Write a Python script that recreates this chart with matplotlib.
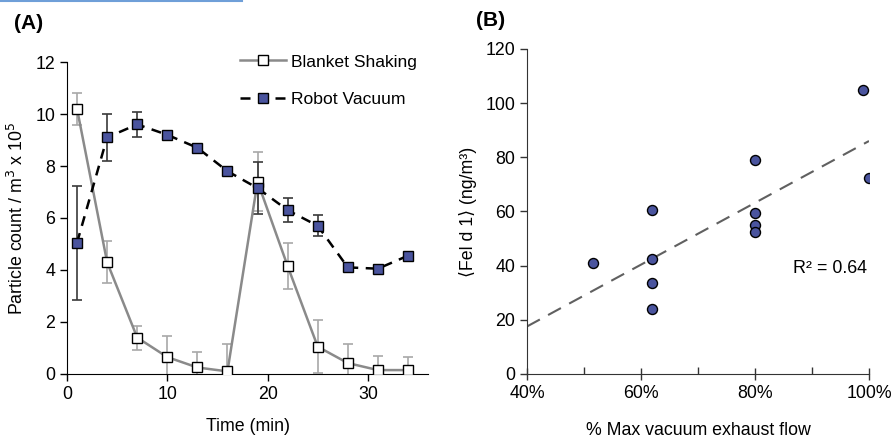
import numpy as np
import matplotlib
matplotlib.use('Agg')
import matplotlib.pyplot as plt
from matplotlib.lines import Line2D
from matplotlib.ticker import PercentFormatter, MultipleLocator

plt.rcParams['font.family'] = ['Liberation Sans', 'DejaVu Sans']
plt.rcParams['font.size'] = 12.8

# Panel A data
time_min = [1, 4, 7, 10, 13, 16, 19, 22, 25, 28, 31, 34]
blanket = [10.2, 4.3, 1.4, 0.65, 0.25, 0.1, 7.4, 4.15, 1.05, 0.42, 0.15, 0.15]
blanket_err = [0.62, 0.8, 0.46, 0.8, 0.6, 1.05, 1.13, 0.9, 1.03, 0.73, 0.55, 0.5]
robot = [5.05, 9.1, 9.6, 9.2, 8.7, 7.8, 7.15, 6.3, 5.7, 4.1, 4.05, 4.55]
robot_err = [2.2, 0.9, 0.47, 0, 0, 0, 1.0, 0.45, 0.4, 0, 0, 0]

# Panel B data
flow = [0.515, 0.62, 0.62, 0.62, 0.62, 0.80, 0.80, 0.80, 0.80, 0.99, 1.00]
feld1 = [41, 60.5, 42.5, 33.5, 24, 79, 59.5, 55, 52.5, 105, 72.5]

blue = '#4a549e'

fig = plt.figure(figsize=(8.91, 4.37), dpi=100)

# (A)
ax1 = fig.add_axes([0.0752, 0.1442, 0.4052, 0.7139])
ax1.errorbar(time_min, blanket, yerr=blanket_err, fmt='none', ecolor='#a8a8a8',
             elinewidth=1.2, capsize=3.5, capthick=1.2, zorder=2)
ax1.errorbar(time_min, robot, yerr=robot_err, fmt='none', ecolor='#3a3a3a',
             elinewidth=1.2, capsize=3.5, capthick=1.2, zorder=2)
ax1.plot(time_min, blanket, color='#8a8a8a', lw=1.8, marker='s', ms=7,
         mfc='white', mec='black', mew=1.0, label='Blanket Shaking', zorder=3)
ax1.plot(time_min, robot, color='black', lw=1.8, ls=(0, (4, 3)), marker='s', ms=7,
         mfc=blue, mec='black', mew=1.0, label='Robot Vacuum', zorder=4)
ax1.set_xlim(0, 36)
ax1.set_ylim(0, 12)
ax1.set_xticks([0, 10, 20, 30])
ax1.set_yticks(range(0, 13, 2))
for s in ['top', 'right']:
    ax1.spines[s].set_visible(False)
ax1.tick_params(direction='out', length=5, width=1.0)
ax1.set_xlabel('Time (min)', labelpad=11)
ax1.set_ylabel('Particle count / m$^3$ x 10$^5$', labelpad=6)
ax1.legend(loc='upper left', bbox_to_anchor=(0.436, 1.075), frameon=False,
           handlelength=2.6, labelspacing=1.25, handletextpad=0.3, fontsize=12.6)
fig.text(0.016, 0.947, '(A)', fontsize=15, fontweight='bold', va='center')

# (B)
ax2 = fig.add_axes([0.5915, 0.1442, 0.3838, 0.7437])
ax2.scatter(flow, feld1, s=52, color=blue, edgecolor='black', linewidth=1.0, zorder=3)
slope, icpt = np.polyfit(flow, feld1, 1)
xfit = np.array([0.4, 1.0])
ax2.plot(xfit, slope * xfit + icpt, color='#606060', lw=1.5, ls=(0, (7, 4.5)), zorder=2)
r2 = np.corrcoef(flow, feld1)[0, 1] ** 2
ax2.text(0.997, 39, 'R² = %.2f' % r2, ha='right', va='center', fontsize=12.9)
ax2.set_xlim(0.4, 1.0)
ax2.set_ylim(0, 120)
ax2.set_xticks([0.4, 0.6, 0.8, 1.0])
ax2.xaxis.set_minor_locator(MultipleLocator(0.1))
ax2.xaxis.set_major_formatter(PercentFormatter(1.0, decimals=0))
ax2.set_yticks(range(0, 121, 20))
for s in ['top', 'right']:
    ax2.spines[s].set_visible(False)
for s in ['left', 'bottom']:
    ax2.spines[s].set_color('#333333')
ax2.tick_params(axis='x', which='major', direction='inout', length=9, width=1.0, color='#333333')
ax2.tick_params(axis='x', which='minor', direction='in', length=5, width=1.0, color='#333333')
ax2.tick_params(axis='y', direction='out', length=5, width=1.0, color='#333333')
ax2.set_xlabel('% Max vacuum exhaust flow', labelpad=14)
ax2.set_ylabel('⟨Fel d 1⟩ (ng/m³)', labelpad=6)
fig.text(0.534, 0.952, '(B)', fontsize=15, fontweight='bold', va='center')

# highlight bar at top-left edge
fig.add_artist(Line2D([0, 0.272], [0.998, 0.998], color='#6f9fd8', lw=1.5,
                      transform=fig.transFigure))

fig.savefig('out.png', dpi=100)
